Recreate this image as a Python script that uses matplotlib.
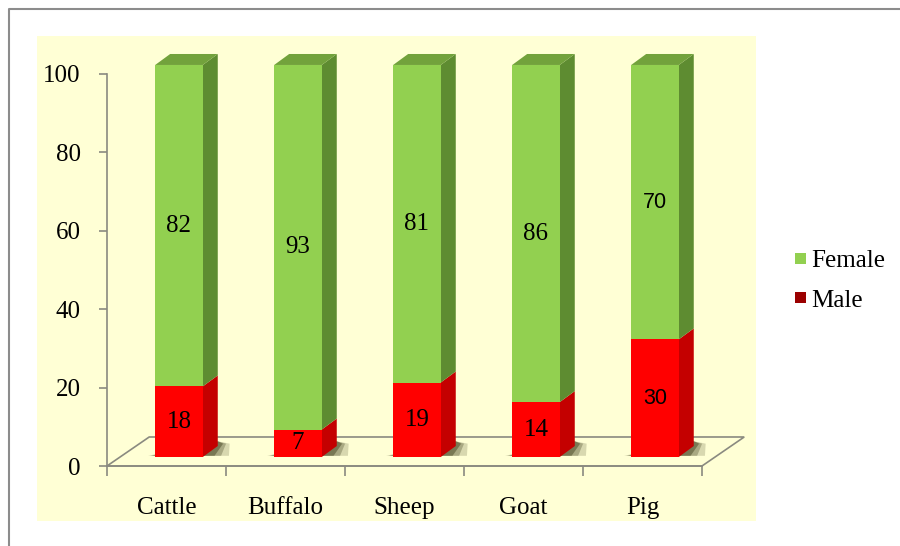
import matplotlib.pyplot as plt
from matplotlib.patches import Polygon, Patch
from matplotlib.lines import Line2D
import numpy as np

animals = ['Cattle', 'Buffalo', 'Sheep', 'Goat', 'Pig']
male = [18, 7, 19, 14, 30]
female = [82, 93, 81, 86, 70]

c_fem = '#92D050'
c_fem_side = '#5E8C31'
c_fem_top = '#72A23C'
c_male = '#FF0000'
c_male_side = '#C40000'
c_leg_male = '#9B0000'
bg = '#FFFFD5'
axcol = '#8A8A80'

plt.rcParams['font.family'] = ['Liberation Serif', 'DejaVu Serif']

fig = plt.figure(figsize=(9, 5.46), dpi=100)
W, H = 900, 546
ax = fig.add_axes([37 / W, (H - 521) / H, 719 / W, 485 / H])
ax.set_facecolor(bg)
ax.set_xlim(-1.088, 4.954)
ax.set_ylim(-14.03, 109.69)

# 3d geometry (data units)
fdx, fdy = 0.355, 7.4      # floor depth
bx, by = 0.105, 2.3        # bar position on floor
bw = 0.40                  # bar width
sdx, sdy = 0.126, 2.8      # bar side depth

x = np.arange(len(animals))
m = np.array(male)
f = np.array(female)

# floor
floor = Polygon([(-0.5, 0), (4.5, 0), (4.5 + fdx, fdy), (-0.5 + fdx, fdy)],
                closed=True, facecolor=bg, edgecolor=axcol, lw=1.2, zorder=1)
ax.add_patch(floor)

for i in range(len(animals)):
    xl = x[i] + bx - bw / 2
    xr = x[i] + bx + bw / 2
    b = by
    # soft shadow around the base
    for k, a in [(1.0, 0.2), (0.7, 0.3), (0.45, 0.45)]:
        ax.add_patch(Polygon([(xl - 0.06 * k, b + 0.3), (xr + 0.22 * k, b + 0.3),
                              (xr + sdx + 0.1 * k, b + sdy + 0.6), (xr + sdx, b + sdy + 1.2)],
                             closed=True, facecolor='#3d3d1a', edgecolor='none',
                             alpha=a, zorder=2))
    # male
    ax.add_patch(Polygon([(xr, b), (xr + sdx, b + sdy), (xr + sdx, b + sdy + m[i]), (xr, b + m[i])],
                         closed=True, facecolor=c_male_side, edgecolor='none', zorder=3))
    # female
    t = m[i] + f[i]
    ax.add_patch(Polygon([(xr, b + m[i]), (xr + sdx, b + sdy + m[i]), (xr + sdx, b + sdy + t), (xr, b + t)],
                         closed=True, facecolor=c_fem_side, edgecolor='none', zorder=3))
    ax.add_patch(Polygon([(xl, b + t), (xr, b + t), (xr + sdx, b + t + sdy), (xl + sdx, b + t + sdy)],
                         closed=True, facecolor=c_fem_top, edgecolor='none', zorder=3))

ax.bar(x + bx, m, bottom=by, width=bw, color=c_male, zorder=4)
ax.bar(x + bx, f, bottom=by + m, width=bw, color=c_fem, zorder=4)

for i in range(len(animals)):
    if animals[i] == 'Pig':
        kw = dict(family=['Liberation Sans', 'DejaVu Sans'], fontsize=15.5)
    else:
        kw = dict(fontsize=18)
    ax.text(x[i] + bx, by + m[i] / 2, str(male[i]), ha='center', va='center', zorder=5, **kw)
    ax.text(x[i] + bx, by + m[i] + f[i] / 2, str(female[i]), ha='center', va='center', zorder=5, **kw)

# axes
for s in ['top', 'right']:
    ax.spines[s].set_visible(False)
ax.spines['left'].set_position(('data', -0.5))
ax.spines['left'].set_bounds(0, 100)
ax.spines['bottom'].set_position(('data', 0))
ax.spines['bottom'].set_bounds(-0.5, 4.5)
for s in ['left', 'bottom']:
    ax.spines[s].set_color(axcol)
    ax.spines[s].set_linewidth(1.2)
    ax.spines[s].set_zorder(1.5)

ax.set_yticks([0, 20, 40, 60, 80, 100])
ax.tick_params(axis='y', length=6, width=1.2, color=axcol, pad=13, labelsize=18)
ax.set_xticks(x)
ax.set_xticklabels(animals)
ax.set_xticks(np.arange(-0.5, 5, 1), minor=True)
ax.tick_params(axis='x', which='major', length=0, pad=22, labelsize=18)
ax.tick_params(axis='x', which='minor', length=7, width=1.2, color=axcol)

handles = [Patch(facecolor=c_fem, edgecolor='none', label='Female'),
           Patch(facecolor=c_leg_male, edgecolor='none', label='Male')]
fig.legend(handles=handles, loc='center left', bbox_to_anchor=(795 / W, 1 - 281 / H),
           frameon=False, fontsize=18, handlelength=0.45, handleheight=0.3,
           handletextpad=0.2, labelspacing=0.7, borderpad=0, borderaxespad=0)

# outer border (top and left)
fig.add_artist(Line2D([9 / W, 9 / W, 1], [0, 1 - 9 / H, 1 - 9 / H], color='#8c8c8c', lw=1.5,
                      transform=fig.transFigure))

fig.savefig('out.png', dpi=100, facecolor='white')
